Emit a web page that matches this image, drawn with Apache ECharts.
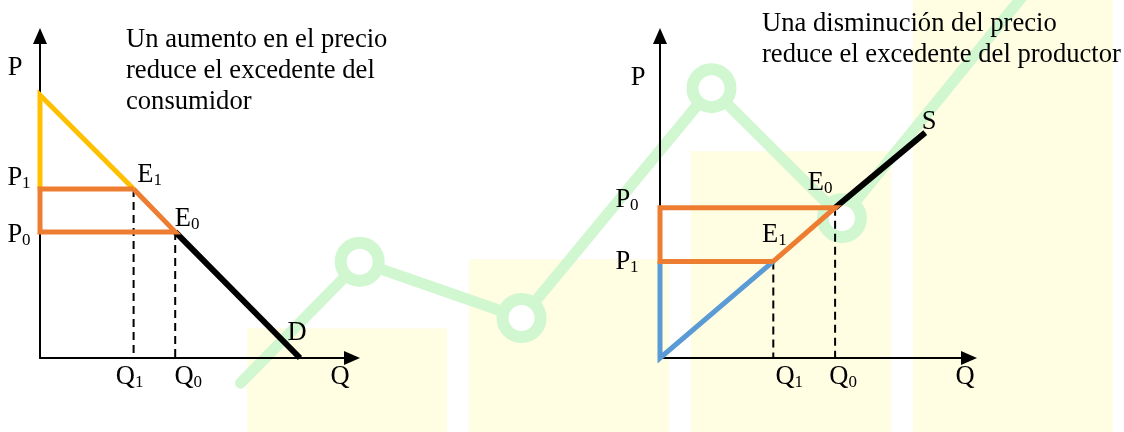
<!DOCTYPE html>
<html>
<head>
<meta charset="utf-8">
<style>
  html, body { margin: 0; padding: 0; background: #fff; }
  #chart { width: 1124px; height: 432px; }
</style>
<script src="https://cdn.jsdelivr.net/npm/echarts@6.0.0/dist/echarts.min.js"></script>
</head>
<body>
<div id="chart"></div>
<script>
// diagrama izquierdo: curva de demanda [P max, E1, E0, D]
const demandQ = [0, 3.6, 5.2, 10]
const demandP = [9.8, 6.3, 4.7, 0]
// diagrama derecho: curva de oferta [origen, E1, E0, S]
const supplyQ = [0, 4.4, 6.8, 10.3]
const supplyP = [0, 3.6, 5.6, 8.4]
const axisMax = 12
const titles = [
  'Un aumento en el precio\nreduce el excedente del\nconsumidor',
  'Una disminución del precio\nreduce el excedente del productor'
]
// marca de agua del fondo
const wmBars = [24, 40, 65, 100]
const wmLineX = [21.4, 32, 46.4, 63.3, 74.9, 93.4]
const wmLineY = [11.3, 39.4, 26.4, 79.6, 49.5, 108.6]

const SERIF = 'Liberation Serif, Times New Roman, serif'
const YELLOW = '#FFC000'
const ORANGE = '#ED7D31'
const BLUE = '#5B9BD5'
const GREEN = '#d0f7d0'

const chart = echarts.init(document.getElementById('chart'))

// desplazamiento de cada etiqueta respecto a su punto (px)
const leftOffsets = {
  P: [-25, 32], P1: [-21, -11], P0: [-21, 3], E1: [16, -14], E0: [12, -13],
  D: [-3, -25], Q1: [-4, 19], Q0: [13, 19], Q: [-12, 19]
}
const rightOffsets = {
  P: [-22, 42], P0: [-33, -8], P1: [-33, 1], E1: [1, -26], E0: [-15, -25],
  S: [4, -11], Q1: [16, 19], Q0: [8, 19], Q: [-4, 19]
}

function seg (data, color, width, z, idx, dashed) {
  return {
    type: 'line',
    xAxisIndex: idx,
    yAxisIndex: idx,
    data: data,
    symbol: 'none',
    clip: false,
    z: z,
    silent: true,
    lineStyle: {
      color: color,
      width: width,
      type: dashed ? [8, 5] : 'solid',
      join: 'miter',
      cap: 'butt'
    }
  }
}

function labels (points, offsets, idx) {
  return {
    type: 'scatter',
    xAxisIndex: idx,
    yAxisIndex: idx,
    symbolSize: 0,
    z: 20,
    silent: true,
    itemStyle: { color: '#000' },
    data: points.map(function (p) {
      return {
        name: p[0],
        value: p[1],
        label: { offset: offsets[p[0]] }
      }
    }),
    label: {
      show: true,
      position: 'inside',
      align: 'center',
      verticalAlign: 'middle',
      color: '#000',
      opacity: 1,
      textBorderWidth: 0,
      fontFamily: SERIF,
      fontSize: 26,
      formatter: function (params) {
        const n = params.name
        return n.length > 1 ? '{b|' + n[0] + '}{s|' + n.slice(1) + '}' : '{b|' + n + '}'
      },
      rich: {
        b: { fontFamily: SERIF, fontSize: 26.5, lineHeight: 28 },
        s: { fontFamily: SERIF, fontSize: 17, lineHeight: 20, verticalAlign: 'bottom' }
      }
    }
  }
}

function diagramAxis (idx) {
  return {
    type: 'value',
    gridIndex: idx,
    min: 0,
    max: axisMax,
    z: 12,
    axisLine: {
      show: true,
      symbol: ['none', 'triangle'],
      symbolSize: [14, 16],
      lineStyle: { color: '#000', width: 2 }
    },
    axisTick: { show: false },
    axisLabel: { show: false },
    splitLine: { show: false }
  }
}

function hiddenAxis (idx, type, max) {
  const a = { type: type, gridIndex: idx, show: false }
  if (type === 'category') {
    a.data = wmBars.map(function (v, i) { return 'b' + i })
  } else {
    a.min = 0
    a.max = max
  }
  return a
}

const dQ = demandQ
const dP = demandP
const sQ = supplyQ
const sP = supplyP

const leftPoints = [
  ['P', [0, axisMax]], ['P1', [0, dP[1]]], ['P0', [0, dP[2]]],
  ['E1', [dQ[1], dP[1]]], ['E0', [dQ[2], dP[2]]], ['D', [dQ[3], dP[3]]],
  ['Q1', [dQ[1], 0]], ['Q0', [dQ[2], 0]], ['Q', [axisMax, 0]]
]
const rightPoints = [
  ['P', [0, axisMax]], ['P0', [0, sP[2]]], ['P1', [0, sP[1]]],
  ['E1', [sQ[1], sP[1]]], ['E0', [sQ[2], sP[2]]], ['S', [sQ[3], sP[3]]],
  ['Q1', [sQ[1], 0]], ['Q0', [sQ[2], 0]], ['Q', [axisMax, 0]]
]

const titleStyle = { fontFamily: SERIF, fontSize: 26.6, lineHeight: 31, fontWeight: 'normal', color: '#000' }

const option = {
  backgroundColor: '#fff',
  animation: false,
  title: [
    { text: titles[0], left: 126, top: 25, padding: 0, z: 20, textStyle: titleStyle },
    { text: titles[1], left: 762, top: 9, padding: 0, z: 20, textStyle: titleStyle }
  ],
  grid: [
    { left: 40, top: 36, width: 312, height: 322 },
    { left: 660, top: 36, width: 309, height: 322 },
    { left: 236, top: 0, width: 896, height: 432 },
    { left: 0, top: 0, width: 1124, height: 432 }
  ],
  xAxis: [
    diagramAxis(0),
    diagramAxis(1),
    hiddenAxis(2, 'category'),
    hiddenAxis(3, 'value', 100)
  ],
  yAxis: [
    diagramAxis(0),
    diagramAxis(1),
    hiddenAxis(2, 'value', 100),
    hiddenAxis(3, 'value', 100)
  ],
  series: [
    // marca de agua
    {
      type: 'bar',
      xAxisIndex: 2,
      yAxisIndex: 2,
      data: wmBars,
      barWidth: 200,
      z: 0,
      silent: true,
      itemStyle: { color: '#fffde2' }
    },
    {
      type: 'line',
      xAxisIndex: 3,
      yAxisIndex: 3,
      data: wmLineX.map(function (x, i) {
        const inner = i > 0 && i < wmLineX.length - 1
        return { value: [x, wmLineY[i]], symbol: inner ? 'circle' : 'none' }
      }),
      symbolSize: 38,
      z: 1,
      silent: true,
      lineStyle: { color: GREEN, width: 11, cap: 'round' },
      itemStyle: { color: '#fff', borderColor: GREEN, borderWidth: 12 }
    },
    // izquierdo
    seg(dQ.map(function (q, i) { return [q, dP[i]] }), '#000', 1.5, 13, 0),
    seg([[dQ[2], dP[2]], [dQ[3], dP[3]]], '#000', 6, 14, 0),
    seg([[dQ[1], dP[1]], [dQ[1], 0]], '#000', 2, 13, 0, true),
    seg([[dQ[2], dP[2]], [dQ[2], 0]], '#000', 2, 13, 0, true),
    seg([[0, dP[1]], [0, dP[0]], [dQ[1], dP[1]]], YELLOW, 5, 15, 0),
    seg([[dQ[1], dP[1]], [0, dP[1]], [0, dP[2]], [dQ[2], dP[2]], [dQ[1], dP[1]]], ORANGE, 5, 16, 0),
    labels(leftPoints, leftOffsets, 0),
    // derecho
    seg(sQ.map(function (q, i) { return [q, sP[i]] }), '#000', 1.5, 13, 1),
    seg([[sQ[2], sP[2]], [sQ[3], sP[3]]], '#000', 6, 14, 1),
    seg([[sQ[1], sP[1]], [sQ[1], 0]], '#000', 2, 13, 1, true),
    seg([[sQ[2], sP[2]], [sQ[2], 0]], '#000', 2, 13, 1, true),
    seg([[0, sP[1]], [0, sP[0]], [sQ[1], sP[1]]], BLUE, 5, 15, 1),
    seg([[sQ[1], sP[1]], [0, sP[1]], [0, sP[2]], [sQ[2], sP[2]], [sQ[1], sP[1]]], ORANGE, 5, 16, 1),
    labels(rightPoints, rightOffsets, 1)
  ]
}

chart.setOption(option)
</script>
</body>
</html>
